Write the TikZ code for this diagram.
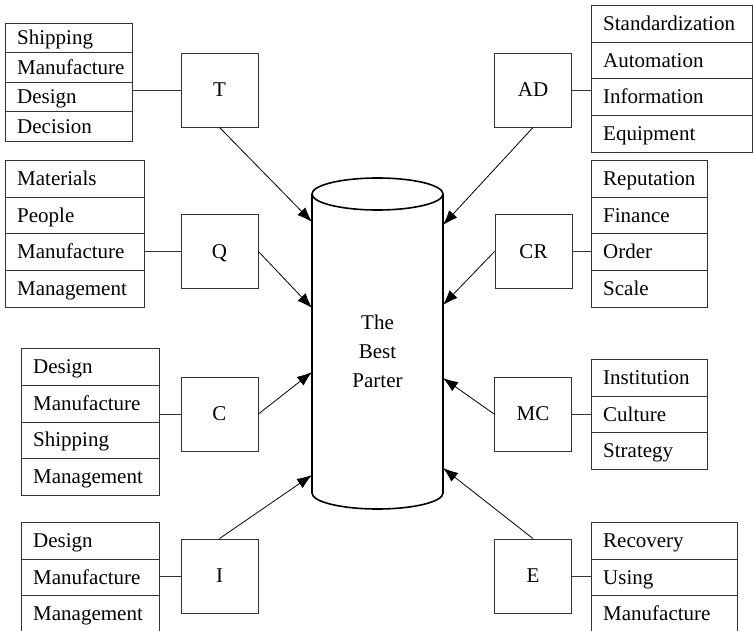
\documentclass[tikz,border=0pt]{standalone}
\usepackage{fontspec}
\setmainfont{Liberation Serif}
\usetikzlibrary{arrows.meta}
\tikzset{
  x=1pt, y=-1pt,
  every node/.style={font=\fontsize{21}{29}\selectfont},
  rowbox/.style={draw=black!80, line width=0.9pt, rectangle, inner sep=0pt, anchor=north west},
  rowtext/.style={anchor=base west, inner sep=0pt},
  keybox/.style={draw=black!80, line width=0.9pt, rectangle, inner sep=0pt,
    minimum width=77pt, minimum height=74pt, text height=13.5pt, text depth=0pt},
  link/.style={draw=black!80, line width=0.9pt},
  arr/.style={line width=0.8pt, -{Latex[length=15pt,width=11pt]}},
  cyl/.style={line width=1.6pt, black},
}
% #1 name, #2 x, #3 top y, #4 width, #5 row height, #6 items
\newcommand{\mylist}[6]{%
  \foreach \t [count=\i] in {#6} {%
    \node[rowbox, minimum width=#4pt, minimum height=#5pt]
      (#1-\i) at (#2, {#3+(\i-1)*#5}) {};
    \node[rowtext] (#1-t\i) at ([shift={(12,6.5)}]#1-\i.west) {\t};
  }%
}
\begin{document}
\begin{tikzpicture}
\useasboundingbox (0,0) rectangle (753,631);

% cylinder
\draw[cyl] (312,194) -- (312,493) arc[start angle=180, end angle=0, x radius=65.5, y radius=16] -- (443,194);
\draw[cyl] (377.5,194) ellipse [x radius=65.5, y radius=16];
\node (c1) at (377.5,330) [anchor=base] {The};
\node (c2) at (377.5,359) [anchor=base] {Best};
\node (c3) at (377.5,388) [anchor=base] {Parter};

\coordinate (pT) at (312,222);
\coordinate (pQ) at (312,308);
\coordinate (pC) at (312,372);
\coordinate (pI) at (312,475);
\coordinate (pAD) at (443,225);
\coordinate (pCR) at (443,305);
\coordinate (pMC) at (443,378);
\coordinate (pE) at (443,468);

% key boxes
\node[keybox] (T)  at (219.5,90) {T};
\node[keybox] (Q)  at (219.5,251.5) {Q};
\node[keybox] (C)  at (219.5,414) {C};
\node[keybox] (I)  at (219.5,576) {I};
\node[keybox] (AD) at (533,90) {AD};
\node[keybox] (CR) at (533.5,251.5) {CR};
\node[keybox] (MC) at (533,414) {MC};
\node[keybox] (E)  at (533,576) {E};

% lists
\mylist{lT}{5}{23}{127}{29.5}{Shipping,Manufacture,Design,Decision}
\mylist{lQ}{5}{160}{139}{36.75}{Materials,People,Manufacture,Management}
\mylist{lC}{21}{348}{138}{36.75}{Design,Manufacture,Shipping,Management}
\mylist{lI}{21}{522}{138}{36.7}{Design,Manufacture,Management}
\mylist{lAD}{591}{5}{161}{36.75}{Standardization,Automation,Information,Equipment}
\mylist{lCR}{591}{160}{116}{36.75}{Reputation,Finance,Order,Scale}
\mylist{lMC}{591}{359}{116}{36.7}{Institution,Culture,Strategy}
\mylist{lE}{591}{522}{146}{36.7}{Recovery,Using,Manufacture}

% links list -> box
\draw[link] (T.west) -- (T.west -| lT-3.east);
\draw[link] (Q.west) -- (Q.west -| lQ-3.east);
\draw[link] (C.west) -- (C.west -| lC-2.east);
\draw[link] (I.west) -- (I.west -| lI-2.east);
\draw[link] (AD.east) -- (AD.east -| lAD-3.west);
\draw[link] (CR.east) -- (CR.east -| lCR-3.west);
\draw[link] (MC.east) -- (MC.east -| lMC-2.west);
\draw[link] (E.east) -- (E.east -| lE-2.west);

% arrows to cylinder
\draw[arr] (T.south) -- (pT);
\draw[arr] (Q.east) -- (pQ);
\draw[arr] (C.east) -- (pC);
\draw[arr] (I.north) -- (pI);
\draw[arr] (AD.south) -- (pAD);
\draw[arr] (CR.west) -- (pCR);
\draw[arr] (MC.west) -- (pMC);
\draw[arr] (E.north) -- (pE);
\end{tikzpicture}
\end{document}
